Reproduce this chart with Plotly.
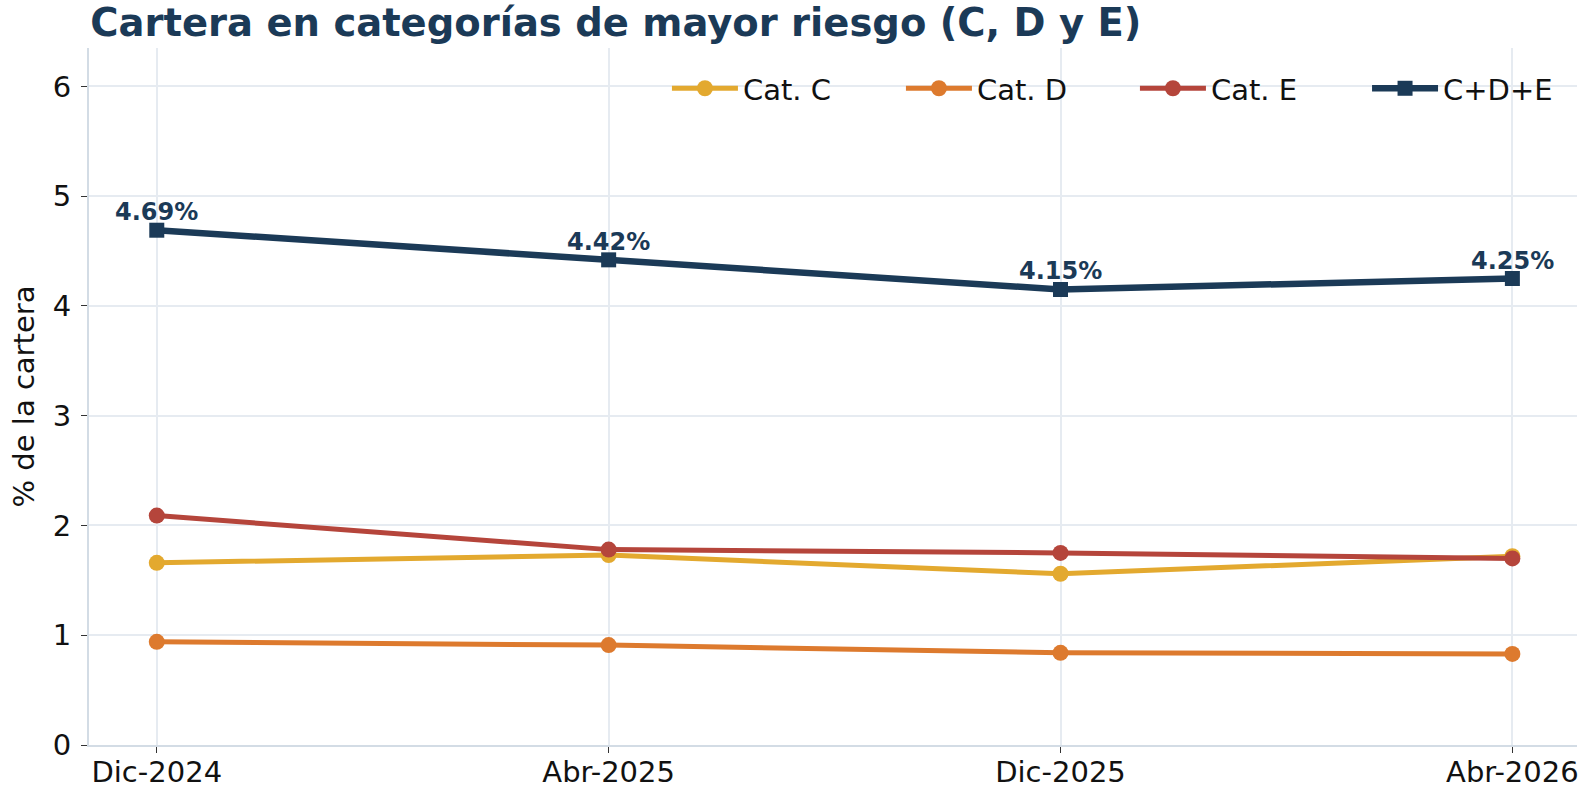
import plotly.graph_objects as go

periods = ["Dic-2024", "Abr-2025", "Dic-2025", "Abr-2026"]
cat_c = [1.66, 1.73, 1.56, 1.72]
cat_d = [0.94, 0.91, 0.84, 0.83]
cat_e = [2.09, 1.78, 1.75, 1.70]
total = [4.69, 4.42, 4.15, 4.25]
total_labels = ["4.69%", "4.42%", "4.15%", "4.25%"]

NAVY = "#1B3A57"
FONT = "DejaVu Sans"
FS = 29

fig = go.Figure()
for name, vals, col in [("Cat. C", cat_c, "#E3A92F"), ("Cat. D", cat_d, "#DD7A2E"), ("Cat. E", cat_e, "#B5453B")]:
    fig.add_trace(go.Scatter(x=periods, y=vals, name=name, mode="lines+markers",
                             line=dict(color=col, width=5), marker=dict(size=16, color=col),
                             legend="legend"))
fig.add_trace(go.Scatter(x=periods, y=total, name="C+D+E", mode="lines+markers",
                         line=dict(color=NAVY, width=6.5), marker=dict(size=15, symbol="square", color=NAVY),
                         legend="legend2"))

for xv, yv, lab in zip(periods, total, total_labels):
    fig.add_annotation(x=xv, y=yv, text=f"<b>{lab}</b>", showarrow=False, yanchor="middle", yshift=18,
                       font=dict(family=FONT, size=24, color=NAVY))

leg_common = dict(orientation="h", yanchor="middle", y=0.942, xanchor="left",
                  bgcolor="rgba(0,0,0,0)", font=dict(size=FS), itemwidth=66)

fig.update_layout(
    width=1585, height=789,
    paper_bgcolor="white", plot_bgcolor="white",
    margin=dict(l=89, r=8, t=48, b=44),
    font=dict(family=FONT, size=FS, color="#111111"),
    title=dict(text="<b>Cartera en categorías de mayor riesgo (C, D y E)</b>",
               font=dict(family=FONT, size=38.5, color=NAVY),
               x=0.057, xanchor="left", y=0.989, yanchor="top"),
    legend=dict(x=0.3884, entrywidth=153, entrywidthmode="pixels", **leg_common),
    legend2=dict(x=0.8589, **leg_common),
    showlegend=True,
)
fig.update_xaxes(type="category", range=[-0.15, 3.143], showgrid=True, gridcolor="#E6EBF1", gridwidth=2,
                 showline=True, linecolor="#D3DCE5", linewidth=2, automargin=False,
                 ticks="outside", ticklen=6, tickcolor="#333333", tickfont=dict(size=FS),
                 ticklabelstandoff=-6)
fig.update_yaxes(range=[0, 6.35], dtick=1, showgrid=True, gridcolor="#E6EBF1", gridwidth=2,
                 showline=True, linecolor="#D3DCE5", linewidth=2, zeroline=False, automargin=False,
                 ticks="outside", ticklen=6, tickcolor="#333333", tickfont=dict(size=FS),
                 ticklabelstandoff=4,
                 title=dict(text="% de la cartera", font=dict(size=FS), standoff=10))

fig.write_html("out.html", config={"displayModeBar": False},
               post_script="document.body.style.margin='0';")
